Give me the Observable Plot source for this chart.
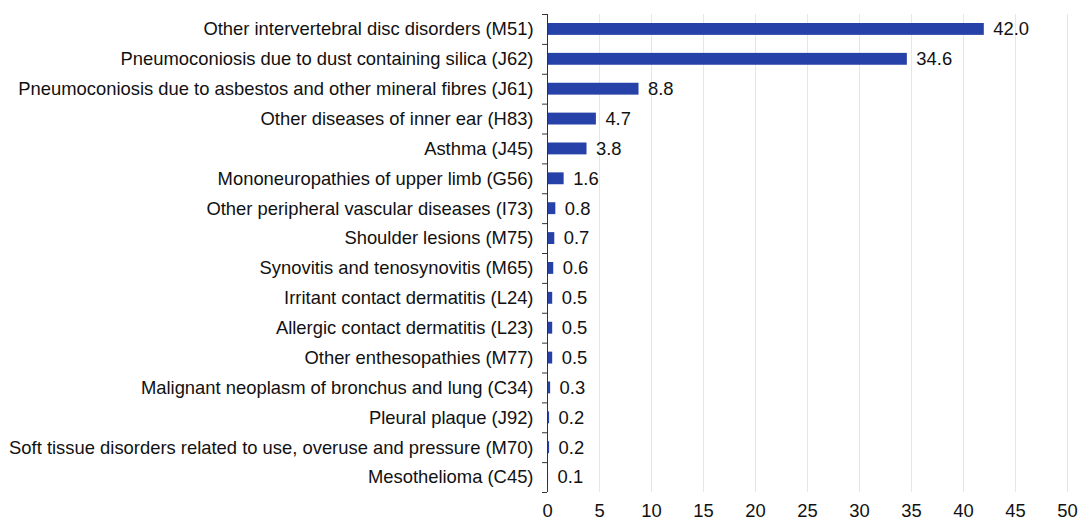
<!DOCTYPE html>
<html>
<head>
<meta charset="utf-8">
<script src="https://cdn.jsdelivr.net/npm/d3@7"></script>
<script src="https://cdn.jsdelivr.net/npm/@observablehq/plot@0.6"></script>
<style>
  html, body { margin: 0; padding: 0; background: #fff; }
  svg { display: block; }
</style>
</head>
<body>
<div id="chart"></div>
<script>
const categories = [
  "Other intervertebral disc disorders (M51)",
  "Pneumoconiosis due to dust containing silica (J62)",
  "Pneumoconiosis due to asbestos and other mineral fibres (J61)",
  "Other diseases of inner ear (H83)",
  "Asthma (J45)",
  "Mononeuropathies of upper limb (G56)",
  "Other peripheral vascular diseases (I73)",
  "Shoulder lesions (M75)",
  "Synovitis and tenosynovitis (M65)",
  "Irritant contact dermatitis (L24)",
  "Allergic contact dermatitis (L23)",
  "Other enthesopathies (M77)",
  "Malignant neoplasm of bronchus and lung (C34)",
  "Pleural plaque (J92)",
  "Soft tissue disorders related to use, overuse and pressure (M70)",
  "Mesothelioma (C45)"
];
const values = [42.0, 34.6, 8.8, 4.7, 3.8, 1.6, 0.8, 0.7, 0.6, 0.5, 0.5, 0.5, 0.3, 0.2, 0.2, 0.1];
const xTicks = [0, 5, 10, 15, 20, 25, 30, 35, 40, 45, 50];

const data = categories.map((c, i) => ({category: c, value: values[i]}));

const W = 1078, H = 521;
const mTop = 14, mBottom = 29;
const bw = (H - mTop - mBottom) / categories.length;
const FS = 18.4;
const TXT = "#111";

const chart = Plot.plot({
  width: W,
  height: H,
  marginLeft: 547,
  marginRight: 11,
  marginTop: mTop,
  marginBottom: mBottom,
  style: {fontFamily: "Liberation Sans, Arial, sans-serif", fontSize: FS + "px", color: TXT},
  x: {domain: [0, 50], axis: null, label: null},
  y: {domain: categories, padding: 0, round: false, axis: null, label: null},
  marks: [
    Plot.gridX(xTicks, {stroke: "#e6e6e6", strokeOpacity: 1, strokeWidth: 1}),
    Plot.barX(data, {x: "value", y: "category", fill: "#2641a8", insetTop: 9, insetBottom: 9}),
    Plot.ruleX([0], {stroke: "#333", strokeWidth: 1}),
    Plot.axisY(categories, {anchor: "left", label: null, tickSize: 0, tickPadding: 14, fontSize: FS, fill: TXT, textAnchor: "end"}),
    Plot.axisY(categories, {anchor: "left", label: null, tickSize: 5, text: null, dy: -bw / 2, stroke: "#333"}),
    Plot.axisY([categories[categories.length - 1]], {anchor: "left", label: null, tickSize: 5, text: null, dy: bw / 2, stroke: "#333"}),
    Plot.axisX(xTicks, {anchor: "bottom", label: null, tickSize: 0, tickPadding: 11, fontSize: FS, fill: TXT}),
    Plot.text(data, {x: "value", y: "category", text: d => d.value.toFixed(1), textAnchor: "start", dx: 9, fontSize: FS, fill: TXT})
  ]
});
document.getElementById("chart").appendChild(chart);
</script>
</body>
</html>
